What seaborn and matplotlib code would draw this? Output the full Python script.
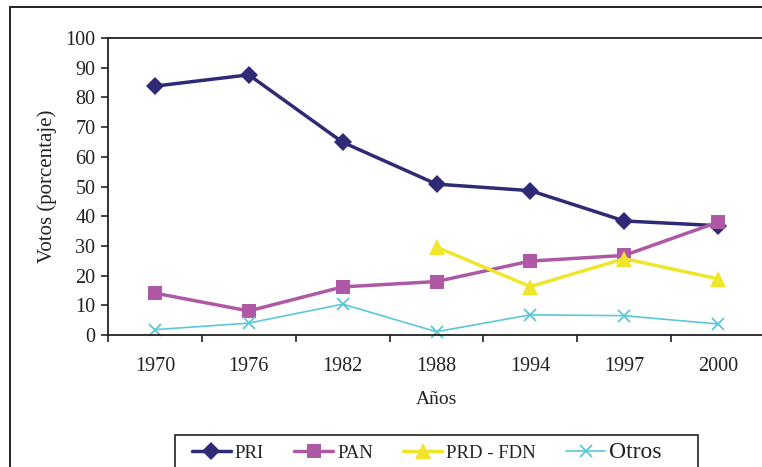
import matplotlib
matplotlib.use("Agg")
import matplotlib.pyplot as plt
import seaborn as sns
import pandas as pd
import numpy as np
from matplotlib.patches import Rectangle
from matplotlib.ticker import FixedLocator

years = ["1970", "1976", "1982", "1988", "1994", "1997", "2000"]
pri = [83.8, 87.6, 64.9, 50.8, 48.6, 38.4, 36.8]
pan = [14.1, 8.1, 16.2, 18.0, 24.9, 26.8, 38.0]
prd = [np.nan, np.nan, np.nan, 29.6, 16.3, 25.7, 18.9]
otros = [1.8, 4.0, 10.4, 1.1, 6.8, 6.5, 3.7]
series_names = ["PRI", "PAN", "PRD - FDN", "Otros"]
y_ticks = list(range(0, 101, 10))

sns.set_theme(style="white")
plt.rcParams["font.family"] = ["Liberation Serif", "DejaVu Serif"]

rows = []
for name, vals in zip(series_names, [pri, pan, prd, otros]):
    for i, (yr, v) in enumerate(zip(years, vals)):
        rows.append({"pos": i, "year": yr, "party": name, "value": v})
df = pd.DataFrame(rows).dropna()

fig = plt.figure(figsize=(7.62, 4.67), dpi=100)
W, H = 762, 467
ax = fig.add_axes([108 / W, (H - 335) / H, (765 - 108) / W, (335 - 38) / H])

styles = {
    "PRI": dict(color="#2E2A76", marker="D", lw=2.5, ms=9, mew=0),
    "PAN": dict(color="#AE58A6", marker="s", lw=2.5, ms=10.5, mew=0),
    "PRD - FDN": dict(color="#EFE62C", marker="^", lw=2.5, ms=12, mew=0),
    "Otros": dict(color="#5CC7DA", marker="x", lw=1.2, ms=9, mew=1.3),
}
for name in series_names:
    st = styles[name]
    sub = df[df["party"] == name]
    sns.lineplot(data=sub, x="pos", y="value", ax=ax, color=st["color"],
                 marker=st["marker"], linewidth=st["lw"], markersize=st["ms"],
                 markeredgewidth=st["mew"], markeredgecolor=st["color"],
                 label=name, clip_on=False)

ax.set_xlim(-0.5, len(years) - 0.5)
ax.set_ylim(0, 100)
ax.set_yticks(y_ticks)
ax.set_yticklabels([str(t) for t in y_ticks], fontsize=14.5, color="#222222")
ax.set_xticks(range(len(years)))
ax.set_xticklabels(years, fontsize=14.5, color="#222222")
ax.xaxis.set_minor_locator(FixedLocator(np.arange(-0.5, len(years), 1.0)))
ax.tick_params(axis="x", which="major", length=0, pad=16)
ax.tick_params(axis="x", which="minor", length=5, width=1.2, direction="out", color="#222222", bottom=True)
ax.tick_params(axis="y", which="major", length=5, width=1.2, direction="out", color="#222222", left=True, pad=4)

for side in ["left", "bottom", "top"]:
    ax.spines[side].set_visible(True)
    ax.spines[side].set_color("#222222")
    ax.spines[side].set_linewidth(1.3)
ax.spines["right"].set_visible(False)

ax.set_xlabel("Años", fontsize=14, color="#222222", labelpad=11)
ax.set_ylabel("Votos (porcentaje)", fontsize=15, color="#222222", labelpad=6)

leg = ax.legend(loc="upper left", bbox_to_anchor=(185 / W, 1 - 435 / H),
                bbox_transform=fig.transFigure, ncol=4, frameon=False,
                fontsize=13.5, handlelength=2.1,
                columnspacing=1.6, borderpad=0.35, handletextpad=0.2,
                borderaxespad=0.0)
for txt in leg.get_texts():
    txt.set_color("#222222")
leg.get_texts()[-1].set_fontsize(17)

# legend box (extends beyond the bottom edge, as in the reference)
fig.add_artist(Rectangle((175 / W, -0.05), (698 - 175) / W, (H - 435) / H + 0.05,
                         transform=fig.transFigure, fill=False,
                         edgecolor="#222222", linewidth=1.2, clip_on=False))

# outer frame
fig.add_artist(Rectangle((10 / W, -0.1), 1.2, (H - 7) / H + 0.1,
                         transform=fig.transFigure, fill=False,
                         edgecolor="#222222", linewidth=1.4, clip_on=False))

fig.savefig("out.png", dpi=100)
